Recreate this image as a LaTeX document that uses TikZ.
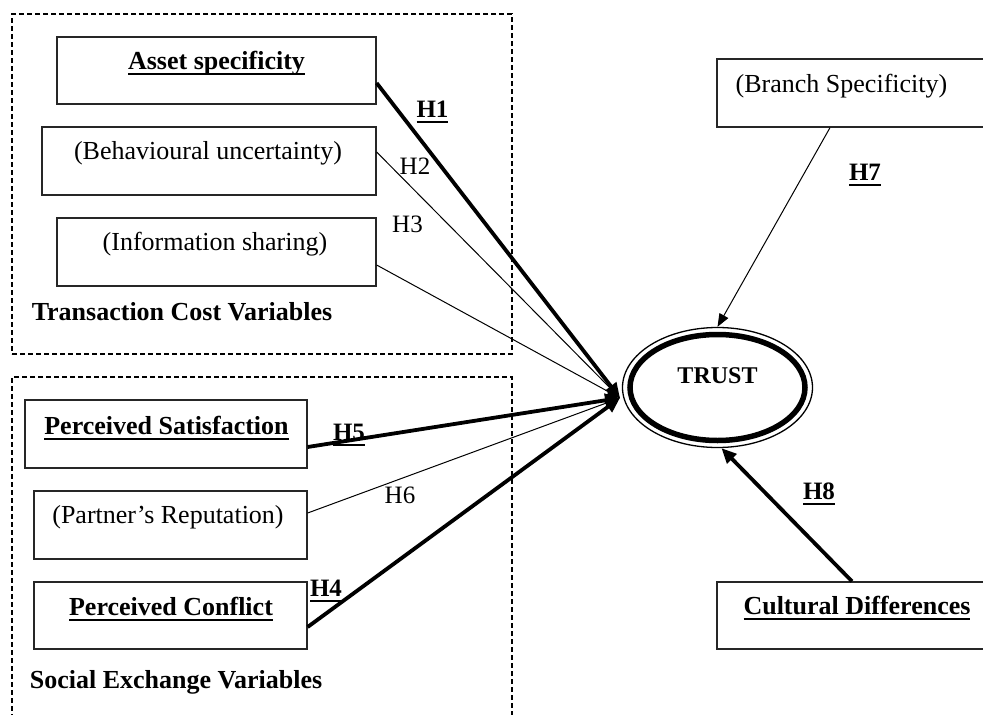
\documentclass[tikz,border=0pt]{standalone}
\usepackage{fontspec}
\setmainfont{Liberation Serif}
\usetikzlibrary{arrows.meta,shapes.geometric}
\newcommand\ulx[1]{\setbox0\hbox{#1}\rlap{\rule[-5.5pt]{\wd0}{1.8pt}}\box0}
\begin{document}
\begin{tikzpicture}[x=1pt,y=-1pt,
  box/.style={draw=black!85,line width=1.3pt,inner sep=0pt,fill=none},
  grp/.style={draw,line width=1.1pt,dash pattern=on 5pt off 3pt,inner sep=0pt},
  txt/.style={font=\fontsize{26}{30}\selectfont,inner sep=0pt,anchor=base},
  btxt/.style={font=\fontsize{26}{30}\selectfont\bfseries,inner sep=0pt,anchor=base},
  hlab/.style={font=\fontsize{25}{30}\selectfont,inner sep=0pt,anchor=base},
  bhlab/.style={font=\fontsize{25}{30}\selectfont\bfseries,inner sep=0pt,anchor=base},
  thin/.style={line width=1pt,-{Triangle[length=13pt,width=10pt]}},
  thick/.style={line width=3.8pt,-{Triangle[length=15pt,width=13pt]}}]
\useasboundingbox (0,0) rectangle (983,715);
\clip (0,0) rectangle (983,715);
% group frames
\node[grp,minimum width=500pt,minimum height=340pt] (tcv) at (262,184) {};
\node[grp,minimum width=500pt,minimum height=383pt] (sev) at (262,568.5) {};
% boxes
\node[box,minimum width=319pt,minimum height=67pt] (asset) at (216.5,70.5) {};
\node[box,minimum width=334pt,minimum height=68pt] (behav) at (209,161) {};
\node[box,minimum width=319pt,minimum height=68pt] (info) at (216.5,252) {};
\node[box,minimum width=282pt,minimum height=68pt] (satis) at (166,434) {};
\node[box,minimum width=273pt,minimum height=68pt] (repu) at (170.5,525) {};
\node[box,minimum width=273pt,minimum height=67pt] (confl) at (170.5,615.5) {};
\node[box,minimum width=273pt,minimum height=68pt] (branch) at (853.5,93) {};
\node[box,minimum width=278pt,minimum height=67pt] (cult) at (856,615.5) {};
% texts in boxes
\node[btxt] (assett) at (216.5,69) {\ulx{Asset specificity}};
\node[txt] (behavt) at (208,159) {(Behavioural uncertainty)};
\node[txt] (infot) at (215,250) {(Information sharing)};
\node[btxt] (satist) at (166.5,434) {\ulx{Perceived Satisfaction}};
\node[txt] (reput) at (168,523) {(Partner’s Reputation)};
\node[btxt] (conflt) at (171,615) {\ulx{Perceived Conflict}};
\node[txt] (brancht) at (841.5,92) {(Branch Specificity)};
\node[btxt] (cultt) at (857,614) {\ulx{Cultural Differences}};
% group titles
\node[btxt] (tcvt) at (182,320) {Transaction Cost Variables};
\node[btxt] (sevt) at (176,688) {Social Exchange Variables};
% trust
\node[draw,ellipse,line width=1.3pt,minimum width=190pt,minimum height=120pt,inner sep=0pt] (trust) at (717.5,387.5) {};
\draw[line width=5.5pt] (trust.center) ellipse [x radius=87.5pt, y radius=53pt];
\node[btxt,font=\fontsize{24}{28}\selectfont\bfseries] (trustt) at (717.5,383) {TRUST};
\coordinate (conv) at (620,398);
% hypothesis labels
\node[bhlab] (h1) at (432.5,117) {\ulx{H1}};
\node[hlab] (h2) at (415,174) {H2};
\node[hlab] (h3) at (407.5,232) {H3};
\node[bhlab] (h5) at (349,440) {\ulx{H5}};
\node[hlab] (h6) at (400,503) {H6};
\node[bhlab] (h4) at (326,596) {\ulx{H4}};
\node[bhlab] (h7) at (865,180) {\ulx{H7}};
\node[bhlab] (h8) at (819,499) {\ulx{H8}};
% connectors
\draw[thick] ([yshift=-12.5pt]asset.east) -- (conv);
\draw[thin] ([yshift=9pt]behav.east) -- (conv);
\draw[thin] ([yshift=-13pt]info.east) -- (conv);
\draw[thick] ([yshift=-13pt]satis.east) -- (conv);
\draw[thin] ([yshift=12pt]repu.east) -- (conv);
\draw[thick] ([yshift=-11.5pt]confl.east) -- (conv);
\draw[thin] ([xshift=-23.5pt]branch.south) -- (trust.north);
\draw[thick] ([xshift=-4pt]cult.north) -- ([xshift=4pt]trust.south);
\end{tikzpicture}
\end{document}
